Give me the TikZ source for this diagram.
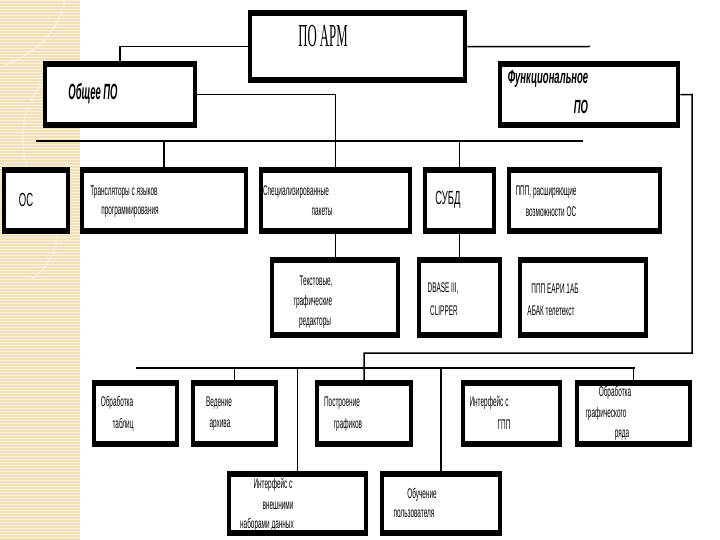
\documentclass[tikz,border=0pt]{standalone}
\usepackage{fontspec}
\setmainfont{Liberation Sans}
\newfontfamily\nf[FakeStretch=0.46]{Liberation Sans}
\newfontfamily\bigf[FakeStretch=0.5]{Liberation Sans}
\newfontfamily\hf[FakeStretch=0.43]{Liberation Sans}
\newfontfamily\ff[FakeStretch=0.5]{Liberation Sans}
\newfontfamily\serf[FakeStretch=0.4]{Liberation Serif}
\definecolor{beige}{HTML}{F0E0B8}
\definecolor{beigel}{HTML}{FAF2DE}
\begin{document}
\begin{tikzpicture}[x=1pt,y=-1pt,
  box/.style={fill=black, inner sep=0pt, anchor=north west,
    path picture={\fill[white] ([xshift=4pt,yshift=-6pt]path picture bounding box.north west)
      rectangle ([xshift=-4pt,yshift=6pt]path picture bounding box.south east);}},
  lbl/.style={inner sep=0pt, font=\nf\fontsize{14}{14}\selectfont},
  big/.style={inner sep=0pt, font=\bigf\fontsize{19}{19}\selectfont},
  conn/.style={line width=1.5pt, draw=black}]
\useasboundingbox (0,0) rectangle (720,540);
\fill[white] (0,0) rectangle (720,540);
% decorative strip
\fill[beige] (0,0) rectangle (80,540);
\foreach \yy in {0,3,...,540} \draw[beigel, line width=0.9pt] (0,\yy) -- (80,\yy);
\draw[beigel, line width=2pt, opacity=0.7] (65,0) .. controls (55,40) and (30,55) .. (5,65);
\draw[beigel, line width=2pt, opacity=0.6] (60,70) .. controls (20,90) and (10,150) .. (40,190);
\draw[beigel, line width=2pt, opacity=0.6] (40,190) .. controls (70,220) and (60,260) .. (30,280);

% boxes
\node[box, minimum width=219pt, minimum height=73pt] (arm) at (248,10) {};
\node[box, minimum width=154pt, minimum height=67pt] (obsh) at (43,61) {};
\node[box, minimum width=182pt, minimum height=67pt] (func) at (498,61) {};

\node[box, minimum width=68pt, minimum height=67pt] (os) at (2,167) {};
\node[box, minimum width=168pt, minimum height=67pt] (trans) at (80,167) {};
\node[box, minimum width=153pt, minimum height=67pt] (spec) at (259,167) {};
\node[box, minimum width=73pt, minimum height=67pt] (subd) at (423,167) {};
\node[box, minimum width=155pt, minimum height=67pt] (ppp) at (507,167) {};

\node[box, minimum width=130pt, minimum height=81pt] (txt) at (270,257) {};
\node[box, minimum width=85pt, minimum height=81pt] (dbase) at (417,257) {};
\node[box, minimum width=130pt, minimum height=81pt] (pppe) at (518,257) {};

\node[box, minimum width=87pt, minimum height=67pt] (tab) at (92,380) {};
\node[box, minimum width=87pt, minimum height=67pt] (arch) at (191,380) {};
\node[box, minimum width=98pt, minimum height=67pt] (graf) at (315,380) {};
\node[box, minimum width=101pt, minimum height=67pt] (gpp) at (461,380) {};
\node[box, minimum width=117pt, minimum height=67pt] (grr) at (575,380) {};

\node[box, minimum width=141pt, minimum height=65pt] (ext) at (227,471) {};
\node[box, minimum width=122pt, minimum height=65pt] (learn) at (380,471) {};

% free ends
\coordinate (armR) at (590,46.5);
\coordinate (busAL) at (36,141);
\coordinate (busAR) at (583,141);
\coordinate (fR) at (692,94.5);
\coordinate (fD) at (692,353);
\coordinate (busBL) at (136,368);
\coordinate (busBR) at (635,368);

% connectors
\draw[conn] (arm.west) -| (obsh.north);
\draw[conn] (arm.east) -- (armR);
\draw[conn] (obsh.east) -| (spec.north);
\draw[conn] (busAL) -- (busAR);
\draw[conn] (trans.north) -- (trans.north |- busAL);
\draw[conn] (subd.north) -- (subd.north |- busAL);
\draw[conn] (spec.south) -- (spec.south |- txt.north);
\draw[conn] (subd.south) -- (subd.south |- dbase.north);
\draw[conn] (func.east) -- (fR) -- (fD) -| (graf.north);
\draw[conn] (busBL) -- (busBR);
\draw[conn] (arch.north) -- (arch.north |- busBL);
\draw[conn] (ext.north) -- (ext.north |- busBL);
\draw[conn] (learn.north) -- (learn.north |- busBL);
\draw[conn] (grr.north) -- (grr.north |- busBL);

% labels
\node[inner sep=0pt, font=\serf\fontsize{32}{32}\selectfont] (tarm) at (323,36) {ПО АРМ};
\node[inner sep=0pt, font=\hf\bfseries\itshape\fontsize{22}{22}\selectfont] (tobsh) at (93,94) {Общее ПО};
\node[inner sep=0pt, font=\ff\bfseries\itshape\fontsize{19}{19}\selectfont] (tfunc1) at (548,79) {Функциональное};
\node[inner sep=0pt, font=\ff\bfseries\itshape\fontsize{19}{19}\selectfont] (tfunc2) at (581,107) {ПО};

\node[big] (tos) at (26,200) {ОС};
\node[lbl] (ttr1) at (124,192) {Трансляторы с языков};
\node[lbl] (ttr2) at (130,212) {программирования};
\node[lbl] (tsp1) at (296,192) {Специализированные};
\node[lbl] (tsp2) at (322,212) {пакеты};
\node[big] (tsubd) at (448,200) {СУБД};
\node[lbl] (tppp1) at (546,192) {ППП, расширяющие};
\node[lbl] (tppp2) at (551,212) {возможности ОС};

\node[lbl] (ttx1) at (316,282) {Текстовые,};
\node[lbl] (ttx2) at (313,302) {графические};
\node[lbl] (ttx3) at (315,323) {редакторы};
\node[lbl] (tdb1) at (443,289) {DBASE III,};
\node[lbl] (tdb2) at (444,311) {CLIPPER};
\node[lbl] (tpe1) at (555,289) {ППП ЕАРИ 1АБ};
\node[lbl] (tpe2) at (551,311) {АБАК телетекст};

\node[lbl] (ttab1) at (117,403) {Обработка};
\node[lbl] (ttab2) at (123,425) {таблиц};
\node[lbl] (tar1) at (219,403) {Ведение};
\node[lbl] (tar2) at (220,425) {архива};
\node[lbl] (tgr1) at (342,403) {Построение};
\node[lbl] (tgr2) at (348,425) {графиков};
\node[lbl] (tgp1) at (489,403) {Интерфейс с};
\node[lbl] (tgp2) at (504,425) {ГПП};
\node[lbl] (tgr1b) at (615,393) {Обработка};
\node[lbl] (tgr2b) at (606,414) {графического};
\node[lbl] (tgr3b) at (622,435) {ряда};

\node[lbl] (tex1) at (273,485) {Интерфейс с};
\node[lbl] (tex2) at (278,506) {внешними};
\node[lbl] (tex3) at (267,525) {наборами данных};
\node[lbl] (tle1) at (422,495) {Обучение};
\node[lbl] (tle2) at (414,514) {пользователя};
\end{tikzpicture}
\end{document}
